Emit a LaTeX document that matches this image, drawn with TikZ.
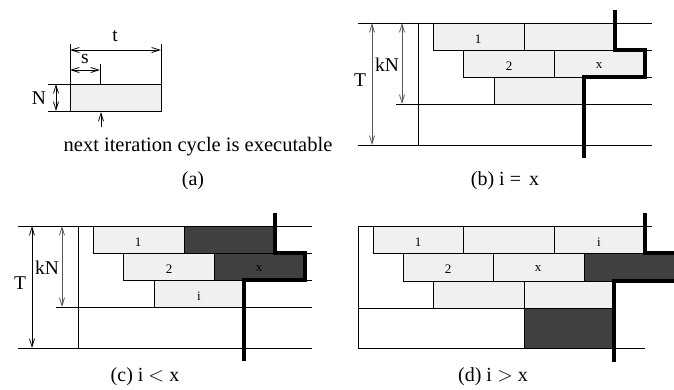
\documentclass[tikz,border=0pt]{standalone}
\usepackage{fontspec}
\setmainfont{Liberation Serif}
\usetikzlibrary{arrows.meta}
\definecolor{lightblk}{HTML}{F0F0F0}
\definecolor{darkblk}{HTML}{404040}
\definecolor{arrgray}{HTML}{555555}
\tikzset{
  thin line/.style={line width=0.8pt, black},
  blk/.style={thin line, fill=lightblk},
  dblk/.style={thin line, fill=darkblk},
  thickline/.style={line width=3.2pt, line join=miter, black},
  dim/.style={thin line, {Straight Barb[length=8pt,width=5pt]}-{Straight Barb[length=8pt,width=5pt]}},
  dimend/.style={thin line, -{Straight Barb[length=8pt,width=5pt]}},
  lbl/.style={font=\fontsize{19.5}{22}\selectfont, inner sep=0pt},
  biglbl/.style={font=\fontsize{20.5}{23}\selectfont, inner sep=0pt},
  caplbl/.style={font=\fontsize{20}{22}\selectfont, inner sep=0pt},
  blbl/.style={font=\fontsize{13}{15}\selectfont, inner sep=0pt},
}
\begin{document}
\begin{tikzpicture}[x=1pt, y=-1pt]
\useasboundingbox (0,0) rectangle (674,389);
% ---------------- (a)
\draw[blk] (70,84) rectangle (161,111);
\draw[thin line] (48,84) -- (70,84);
\draw[thin line] (48,111) -- (70,111);
\draw[thin line] (70,44) -- (70,84);
\draw[thin line] (161,44) -- (161,84);
\draw[thin line] (100,64) -- (100,84);
\draw[dim] (70,50) -- (161,50);
\node[lbl] (at) at (115,36) {t};
\draw[dim] (70,70) -- (100,70);
\node[lbl] (as) at (85,59) {s};
\draw[dim] (56,84) -- (56,111);
\node[lbl] (aN) at (39,98) {N};
\node[biglbl] (anext) at (198,147) {next iteration cycle is executable};
\coordinate (aarr) at (101,112);
\coordinate (abase) at (101,127);
\draw[dimend] (abase) -- (aarr);
\node[caplbl] (acap) at (193,181) {(a)};
% ---------------- (b)
\draw[blk] (433,23) rectangle (524,50);
\draw[blk] (524,23) rectangle (615,50);
\draw[blk] (463,50) rectangle (554,77);
\draw[blk] (554,50) rectangle (645,77);
\draw[blk] (494,77) rectangle (584,104);
\draw[thin line] (358,23) -- (652,23);
\draw[thin line] (615,50) -- (652,50);
\draw[thin line] (645,77) -- (652,77);
\draw[thin line] (396,104) -- (652,104);
\draw[thin line] (358,145) -- (652,145);
\draw[thin line] (418,23) -- (418,145);
\draw[dim, arrgray] (372,23) -- (372,145);
\draw[dim, arrgray] (402,23) -- (402,104);
\node[lbl] (bT) at (360,80) {T};
\node[lbl] (bkN) at (387,65) {kN};
\node[blbl] (b1) at (478,39) {1};
\node[blbl] (b2) at (509,66) {2};
\node[blbl] (bx) at (599,66) {x};
\draw[thickline] (615,10) -- (615,50) -- (645,50) -- (645,77) -- (584,77) -- (584,158);
\node[caplbl] (bcap) at (505,181) {(b) i\hspace{5pt}=\hspace{8pt}x};
% ---------------- (c)
\begin{scope}[shift={(-340,203)}]
\draw[blk] (433,23) rectangle (524,50);
\draw[dblk] (524,23) rectangle (615,50);
\draw[blk] (463,50) rectangle (554,77);
\draw[dblk] (554,50) rectangle (645,77);
\draw[blk] (494,77) rectangle (584,104);
\draw[thin line] (358,23) -- (652,23);
\draw[thin line] (615,50) -- (652,50);
\draw[thin line] (645,77) -- (652,77);
\draw[thin line] (396,104) -- (652,104);
\draw[thin line] (358,145) -- (652,145);
\draw[thin line] (418,23) -- (418,145);
\draw[dim] (372,23) -- (372,145);
\draw[dim, arrgray] (402,23) -- (402,104);
\node[lbl] (cT) at (360,80) {T};
\node[lbl] (ckN) at (387,65) {kN};
\node[blbl] (c1) at (478,39) {1};
\node[blbl] (c2) at (509,66) {2};
\node[blbl, text=black] (cx) at (599,66) {x};
\node[blbl] (ci) at (539,93) {i};
\draw[thickline] (615,10) -- (615,50) -- (645,50) -- (645,77) -- (584,77) -- (584,158);
\end{scope}
\node[caplbl] (ccap) at (145,377) {(c) i\hspace{5pt}$<$\hspace{5pt}x};
% ---------------- (d)
\draw[blk] (373,226) rectangle (463,253);
\draw[blk] (463,226) rectangle (554,253);
\draw[blk] (554,226) rectangle (645,253);
\draw[blk] (403,253) rectangle (493,281);
\draw[blk] (493,253) rectangle (584,281);
\draw[dblk] (584,253) rectangle (678,281);
\draw[blk] (433,281) rectangle (524,308);
\draw[blk] (524,281) rectangle (614,308);
\draw[dblk] (524,308) rectangle (614,348);
\draw[thin line] (358,226) -- (652,226);
\draw[thin line] (358,226) -- (358,348);
\draw[thin line] (358,308) -- (614,308);
\draw[thin line] (358,348) -- (645,348);
\node[blbl] (d1) at (418,242) {1};
\node[blbl] (di) at (599,242) {i};
\node[blbl] (d2) at (448,269) {2};
\node[blbl] (dx) at (538,269) {x};
\draw[thickline] (645,213) -- (645,253) -- (678,253);
\draw[thickline] (678,281) -- (614,281) -- (614,362);
\node[caplbl] (dcap) at (493,377) {(d) i\hspace{5pt}$>$\hspace{5pt}x};
\end{tikzpicture}
\end{document}
